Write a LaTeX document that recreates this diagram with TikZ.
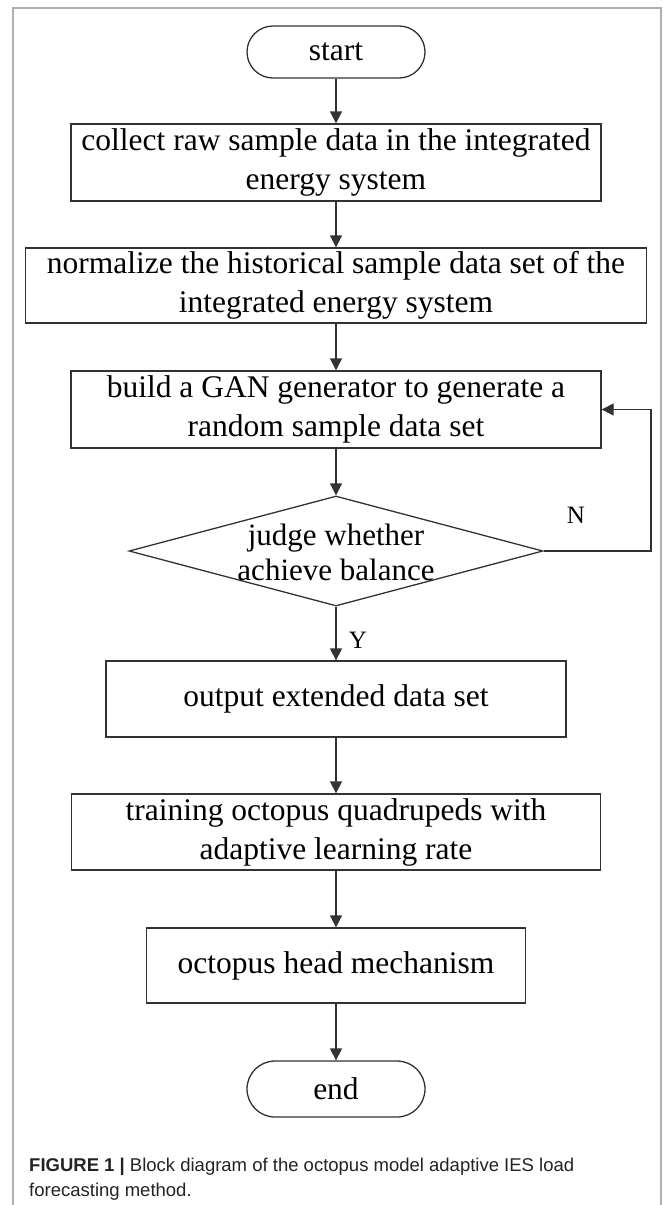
\documentclass[tikz,border=0pt]{standalone}
\usepackage{fontspec}
\setmainfont{Liberation Serif}
\newfontfamily\capfont{Liberation Sans}
\usetikzlibrary{arrows.meta,shapes.geometric}
\definecolor{linegray}{RGB}{50,50,50}
\definecolor{framegray}{RGB}{175,175,175}
\definecolor{capgray}{RGB}{35,35,35}
\begin{document}
\begin{tikzpicture}[x=1pt,y=-1pt,
  box/.style={draw=linegray, line width=1.3pt, rectangle, inner sep=0pt, align=center, font=\fontsize{31.5}{39}\selectfont},
  term/.style={box, rounded corners=26pt},
  decbox/.style={draw=linegray, line width=1.3pt, diamond, inner sep=0pt},
  flow/.style={draw=linegray, line width=1.3pt, -{Triangle[length=12pt,width=12pt]}},
  frameline/.style={draw=framegray, line width=2pt},
  lbl/.style={font=\fontsize{25}{28}\selectfont, inner sep=0pt},
  captext/.style={anchor=north west, inner sep=0pt, align=left, text=capgray, font=\capfont\fontsize{18.5}{24.5}\selectfont}
]
\useasboundingbox (0,0) rectangle (663,1205);
\draw[frameline] (13,1205) -- (13,8) -- (661,8) -- (661,1205);

\node[term, minimum width=178pt, minimum height=52pt] (start) at (336,52) {start};
\node[box, minimum width=530pt, minimum height=77pt] (b1) at (336,162.5) {collect raw sample data in the integrated\\energy system};
\node[box, minimum width=621pt, minimum height=75pt] (b2) at (336,285.5) {normalize the historical sample data set of the\\integrated energy system};
\node[box, minimum width=530pt, minimum height=77pt] (b3) at (336,409.5) {build a GAN generator to generate a\\random sample data set};
\node[decbox, minimum width=414pt, minimum height=110pt] (dec) at (336,551) {};
\node[align=center, inner sep=0pt, font=\fontsize{31}{35}\selectfont] (dect) at (336,552) {judge whether\\achieve balance};
\node[box, minimum width=460pt, minimum height=76pt] (b4) at (336,699) {output extended data set};
\node[box, minimum width=529pt, minimum height=76pt] (b5) at (336,832) {training octopus quadrupeds with\\adaptive learning rate};
\node[box, minimum width=379pt, minimum height=75pt] (b6) at (336,965.5) {octopus head mechanism};
\node[term, rounded corners=28pt, minimum width=178pt, minimum height=56pt] (end) at (336,1089) {end};

\draw[flow] (start) -- (b1);
\draw[flow] (b1) -- (b2);
\draw[flow] (b2) -- (b3);
\draw[flow] (b3) -- (dec);
\draw[flow] (dec) -- (b4);
\draw[flow] (b4) -- (b5);
\draw[flow] (b5) -- (b6);
\draw[flow] (b6) -- (end);
\coordinate (loop) at (651,551);
\draw[flow] (dec.east) -- (loop) |- (b3.east);

\node[lbl] (N) at (576,515) {N};
\node[lbl] (Y) at (358,640) {Y};

\node[captext] (cap) at (29,1158) {\textbf{FIGURE 1 |} Block diagram of the octopus model adaptive IES load\\forecasting method.};
\end{tikzpicture}
\end{document}
